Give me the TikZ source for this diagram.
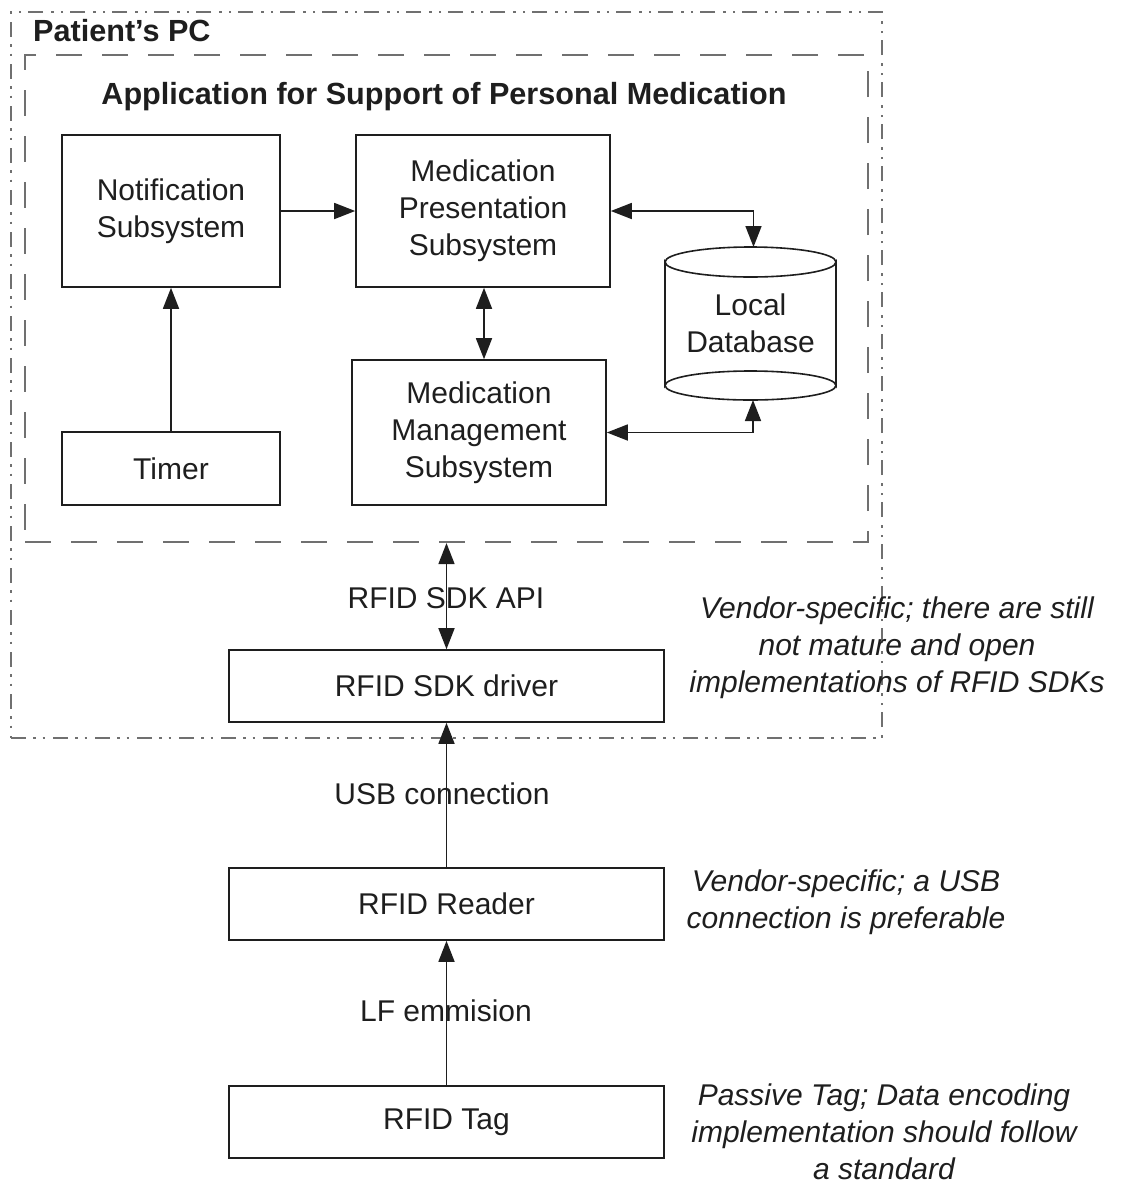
\documentclass[tikz,border=0pt]{standalone}
\usepackage{fontspec}
\setmainfont{Liberation Sans}
\usetikzlibrary{arrows.meta}
\definecolor{ink}{HTML}{1E1E1E}
\definecolor{frame}{HTML}{707070}
\begin{document}
\begin{tikzpicture}[x=1pt,y=-1pt,
  every node/.style={font=\fontsize{30}{37}\selectfont, text=ink, inner sep=0pt, align=center},
  blk/.style={draw=ink, line width=1.6pt},
  conn/.style={draw=ink, line width=1.6pt},
  tip/.style={-{Triangle[length=21pt,width=16pt]}},
  bitip/.style={{Triangle[length=21pt,width=16pt]}-{Triangle[length=21pt,width=16pt]}},
  titl/.style={font=\fontsize{30.6}{37}\selectfont\bfseries},
  note/.style={font=\fontsize{30}{37}\selectfont\itshape},
  appbox/.style={draw=frame, line width=2.2pt, dash pattern=on 26pt off 20pt},
  pcbox/.style={draw=frame, line width=2pt, dash pattern=on 15pt off 7pt on 2.5pt off 7pt on 2.5pt off 8pt}
]
\useasboundingbox (0,0) rectangle (1121,1184);

% frames
\node[pcbox, minimum width=871pt, minimum height=726pt] (pc) at (446.5,375) {};
\node[appbox, minimum width=843pt, minimum height=487pt] (app) at (446.5,298.5) {};
\node[titl, anchor=west] (pctitle) at (33,31) {Patient’s PC};
\node[titl] (apptitle) at (444,97) {Application for Support of Personal Medication};

% boxes
\node[blk, minimum width=218pt, minimum height=152pt] (notif) at (171,211) {Notification\\Subsystem};
\node[blk, minimum width=254pt, minimum height=152pt] (pres) at (483,211) {Medication\\Presentation\\Subsystem};
\node[blk, minimum width=254pt, minimum height=145pt] (mgmt) at (479,432.5) {Medication\\Management\\Subsystem};
\node[blk, minimum width=218pt, minimum height=73pt] (timer) at (171,468.5) {Timer};

% database cylinder
\draw[blk, fill=white] (665,262) -- (665,385.5) arc[start angle=180, end angle=360, x radius=85.5, y radius=14.5]
  -- (836,262) arc[start angle=0, end angle=180, x radius=85.5, y radius=15] -- cycle;
\draw[blk] (665,262) arc[start angle=180, end angle=360, x radius=85.5, y radius=15];
\draw[blk] (665,385.5) arc[start angle=180, end angle=0, x radius=85.5, y radius=14.5];
\node[minimum width=171pt, minimum height=153pt] (db) at (750.5,323.5) {Local\\Database};
\coordinate (dbtop) at (753.5,247);
\coordinate (dbbot) at (753,400);

% lower boxes
\node[blk, minimum width=435pt, minimum height=72pt] (driver) at (446.5,686) {RFID SDK driver};
\node[blk, minimum width=435pt, minimum height=72pt] (reader) at (446.5,904) {RFID Reader};
\node[blk, minimum width=435pt, minimum height=72pt] (tag) at (446.5,1122) {RFID Tag};

% connectors
\draw[conn, tip] (notif.east) -- (pres.west);
\draw[conn, tip] (timer.north) -- (notif.south);
\draw[conn, bitip] (pres.south -| 484,0) -- (mgmt.north -| 484,0);
\draw[conn, bitip] (pres.east) -- (dbtop |- pres.east) -- (dbtop);
\draw[conn, bitip] (mgmt.east) -- (dbbot |- mgmt.east) -- (dbbot);
\draw[conn, bitip] (app.south) -- (driver.north);
\draw[conn, tip] (reader.north) -- (driver.south);
\draw[conn, tip] (tag.north) -- (reader.south);

% connector labels
\node (lapi) at (446,598) {RFID SDK API};
\node (lusb) at (442,794) {USB connection};
\node (llf) at (446,1011) {LF emmision};

% notes
\node[note] (n1) at (897,648) {Vendor-specific; there are still\\not mature and open\\implementations of RFID SDKs};
\node[note] (n2) at (846,902) {Vendor-specific; a USB\\connection is preferable};
\node[note] (n3) at (884,1132) {Passive Tag; Data encoding\\implementation should follow\\a standard};
\end{tikzpicture}
\end{document}
